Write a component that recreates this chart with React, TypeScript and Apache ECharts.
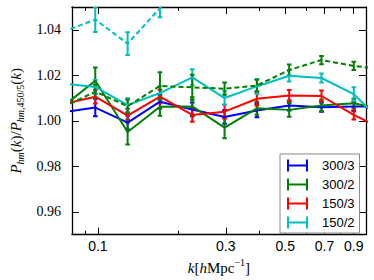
import React, { useEffect, useRef } from "react";
import * as echarts from "echarts";

// k values (h/Mpc); first and last points lie just outside the plotted range
const K = [0.0741, 0.0978, 0.1291, 0.1704, 0.2249, 0.2968, 0.3917, 0.517, 0.6823, 0.9005, 1.188];

const R300_3 = [1.0037, 1.0058, 0.9992, 1.0084, 1.005, 1.0017, 1.0045, 1.0067, 1.006, 1.0063, 1.0063];
const E300_3 = [null, 0.0038, 0.003, 0.003, 0.003, 0.003, 0.0029, 0.0022, 0.002, 0.002, null];

const R300_2 = [1.0063, 1.0176, 0.9951, 1.0062, 1.0063, 0.997, 1.0055, 1.0048, 1.0067, 1.0077, 1.0046];
const E300_2 = [null, 0.0058, 0.0055, 0.004, 0.004, 0.0047, 0.0028, 0.003, 0.0025, 0.002, null];

const R150_3 = [1.0073, 1.0106, 1.0023, 1.0106, 1.0026, 1.004, 1.0097, 1.0111, 1.0109, 1.0026, 0.9957];
const E150_3 = [null, 0.003, 0.003, 0.003, 0.003, 0.003, 0.003, 0.0024, 0.0024, 0.002, null];

const R150_2 = [1.0164, 1.0149, 1.0069, 1.0122, 1.0191, 1.01, 1.0151, 1.0198, 1.0188, 1.0117, 0.9977];
const E150_2 = [null, 0.003, 0.003, 0.003, 0.0035, 0.003, 0.0033, 0.0025, 0.002, 0.003, null];

const RGD = [1.006, 1.0128, 1.0064, 1.0153, 1.0147, 1.0141, 1.0155, 1.0223, 1.0267, 1.0241, 1.0225];
const EGD = [null, 0.003, 0.003, 0.006, 0.0055, 0.0027, 0.0025, 0.0024, 0.0018, 0.0018, null];

const RCD = [1.0391, 1.0445, 1.0339, 1.0495, 1.058, null, null, null, null, null, null];
const ECD = [null, 0.0055, 0.005, 0.004, null, null, null, null, null, null, null];

const LEGEND_NAMES = ["300/3", "300/2", "150/3", "150/2"];
const COLORS = ["#0000ff", "#008000", "#ff0000", "#00bfbf"];

const X_MAJOR = [0.1, 0.3, 0.5, 0.7, 0.9];
const X_MINOR = [0.09, 0.2, 0.4, 0.6, 0.8];
const Y_TICKS = [0.96, 0.98, 1.0, 1.02, 1.04];

const SERIES_DEF = [
  { name: "300/3", vals: R300_3, errs: E300_3, color: COLORS[0], dashed: false },
  { name: "300/2", vals: R300_2, errs: E300_2, color: COLORS[1], dashed: false },
  { name: "150/3", vals: R150_3, errs: E150_3, color: COLORS[2], dashed: false },
  { name: "150/2", vals: R150_2, errs: E150_2, color: COLORS[3], dashed: false },
  { name: "300/2 b", vals: RGD, errs: EGD, color: COLORS[1], dashed: true },
  { name: "150/2 b", vals: RCD, errs: ECD, color: COLORS[3], dashed: true },
];

export default function App() {
  const ref = useRef<HTMLDivElement>(null);
  useEffect(() => {
    if (!ref.current) return;
    const chart = echarts.init(ref.current, null, { renderer: "svg" });

    const series: any[] = [];
    SERIES_DEF.forEach((s) => {
      const lineData = K.map((k, i) => (s.vals[i] == null ? null : [k, s.vals[i]])).filter(Boolean);
      series.push({
        type: "line",
        name: s.name,
        data: lineData,
        showSymbol: false,
        symbol: "none",
        lineStyle: { color: s.color, width: 2, type: s.dashed ? [5, 3] : "solid" },
        itemStyle: { color: s.color },
        clip: true,
        z: 2,
      });
      const errData = K.map((k, i) =>
        s.vals[i] == null || s.errs[i] == null ? null : [k, s.vals[i], s.errs[i]]
      ).filter(Boolean);
      series.push({
        type: "custom",
        name: s.name + " err",
        data: errData,
        clip: true,
        z: 2,
        encode: { x: 0, y: 1 },
        renderItem: (params: any, api: any) => {
          const x = api.value(0);
          const y = api.value(1);
          const e = api.value(2);
          const top = api.coord([x, y + e]);
          const bot = api.coord([x, y - e]);
          const cap = 2.3;
          const st = { stroke: s.color, lineWidth: 2 };
          return {
            type: "group",
            children: [
              { type: "line", shape: { x1: top[0], y1: top[1], x2: bot[0], y2: bot[1] }, style: st },
              { type: "line", shape: { x1: top[0] - cap, y1: top[1], x2: top[0] + cap, y2: top[1] }, style: st },
              { type: "line", shape: { x1: bot[0] - cap, y1: bot[1], x2: bot[0] + cap, y2: bot[1] }, style: st },
            ],
          };
        },
      });
    });

    const baseX = { type: "log", logBase: 10, min: 0.08, max: 1.0, splitLine: { show: false } };
    const fmtX = (v: number) => String(Math.round(v * 10) / 10);

    const serif = "'Liberation Serif', 'Times New Roman', serif";
    const richName = {
      i: { fontFamily: serif, fontStyle: "italic", fontSize: 15, color: "#000", lineHeight: 20 },
      n: { fontFamily: serif, fontSize: 15, color: "#000", lineHeight: 20 },
      sub: { fontFamily: serif, fontStyle: "italic", fontSize: 10, color: "#000", verticalAlign: "bottom", lineHeight: 20 },
      subn: { fontFamily: serif, fontSize: 10, color: "#000", verticalAlign: "bottom", lineHeight: 20 },
      sup: { fontFamily: serif, fontSize: 10, color: "#000", verticalAlign: "top", lineHeight: 20 },
    };

    chart.setOption({
      animation: false,
      backgroundColor: "#fff",
      grid: { left: 57, right: 8, top: 7, bottom: 44, containLabel: false },
      legend: {
        orient: "vertical",
        left: 280,
        top: 154,
        data: LEGEND_NAMES.map((n, i) => ({ name: n, itemStyle: { color: COLORS[i], borderWidth: 0 } })),
        icon: "path://M0,0h2v12h-2z M0,5h21v2h-21z M19,0h2v12h-2z",
        itemWidth: 21,
        itemHeight: 12,
        itemGap: 6,
        symbolKeepAspect: false,
        padding: [5, 5, 4, 7],
        backgroundColor: "#fff",
        borderColor: "#888",
        borderWidth: 1,
        borderRadius: 0,
        selectedMode: false,
        textStyle: { fontFamily: "'Liberation Sans', Arial, sans-serif", fontSize: 13, color: "#000", padding: [0, 0, 0, 9] },
      },
      xAxis: [
        {
          ...baseX,
          position: "bottom",
          axisLine: { show: true, lineStyle: { color: "#000", width: 1.3 } },
          axisTick: { show: true, inside: true, length: 7, customValues: X_MAJOR, lineStyle: { color: "#000", width: 1 } },
          axisLabel: {
            show: true,
            customValues: X_MAJOR,
            formatter: fmtX,
            fontFamily: "'Liberation Sans', Arial, sans-serif",
            fontSize: 14,
            color: "#000",
            margin: 4,
          },
          name: "{i|k}{n|[}{i|h}{n|Mpc}{sup|−1}{n|]}",
          nameLocation: "middle",
          nameGap: 18,
          nameTextStyle: { rich: richName, verticalAlign: "top" },
        },
        {
          ...baseX,
          position: "bottom",
          axisLine: { show: false },
          axisTick: { show: true, inside: true, length: 4, customValues: X_MINOR, lineStyle: { color: "#000", width: 1 } },
          axisLabel: { show: false },
        },
        {
          ...baseX,
          position: "top",
          axisLine: { show: true, lineStyle: { color: "#000", width: 1.3 } },
          axisTick: { show: true, inside: true, length: 7, customValues: X_MAJOR, lineStyle: { color: "#000", width: 1 } },
          axisLabel: { show: false },
        },
        {
          ...baseX,
          position: "top",
          axisLine: { show: false },
          axisTick: { show: true, inside: true, length: 4, customValues: X_MINOR, lineStyle: { color: "#000", width: 1 } },
          axisLabel: { show: false },
        },
      ],
      yAxis: [
        {
          type: "value",
          min: 0.95,
          max: 1.05,
          position: "left",
          splitLine: { show: false },
          axisLine: { show: true, lineStyle: { color: "#000", width: 1.3 } },
          axisTick: { show: true, inside: true, length: 7, customValues: Y_TICKS, lineStyle: { color: "#000", width: 1 } },
          axisLabel: {
            show: true,
            customValues: Y_TICKS,
            formatter: (v: number) => v.toFixed(2),
            fontFamily: serif,
            fontSize: 14,
            color: "#000",
            margin: 11,
          },
          name: "{i|P}{sub|hm}{n|(}{i|k}{n|)/}{i|P}{sub|hm,}{subn|450/5}{n|(}{i|k}{n|)}",
          nameLocation: "middle",
          nameRotate: 90,
          nameGap: 35,
          nameTextStyle: { rich: richName },
        },
        {
          type: "value",
          min: 0.95,
          max: 1.05,
          position: "right",
          splitLine: { show: false },
          axisLine: { show: true, lineStyle: { color: "#000", width: 1.3 } },
          axisTick: { show: true, inside: true, length: 7, customValues: Y_TICKS, lineStyle: { color: "#000", width: 1 } },
          axisLabel: { show: false },
        },
      ],
      series,
    });
    return () => chart.dispose();
  }, []);

  return (
    <div
      ref={ref}
      style={{ position: "fixed", left: 0, top: 0, width: 374, height: 280, background: "#fff" }}
    />
  );
}
